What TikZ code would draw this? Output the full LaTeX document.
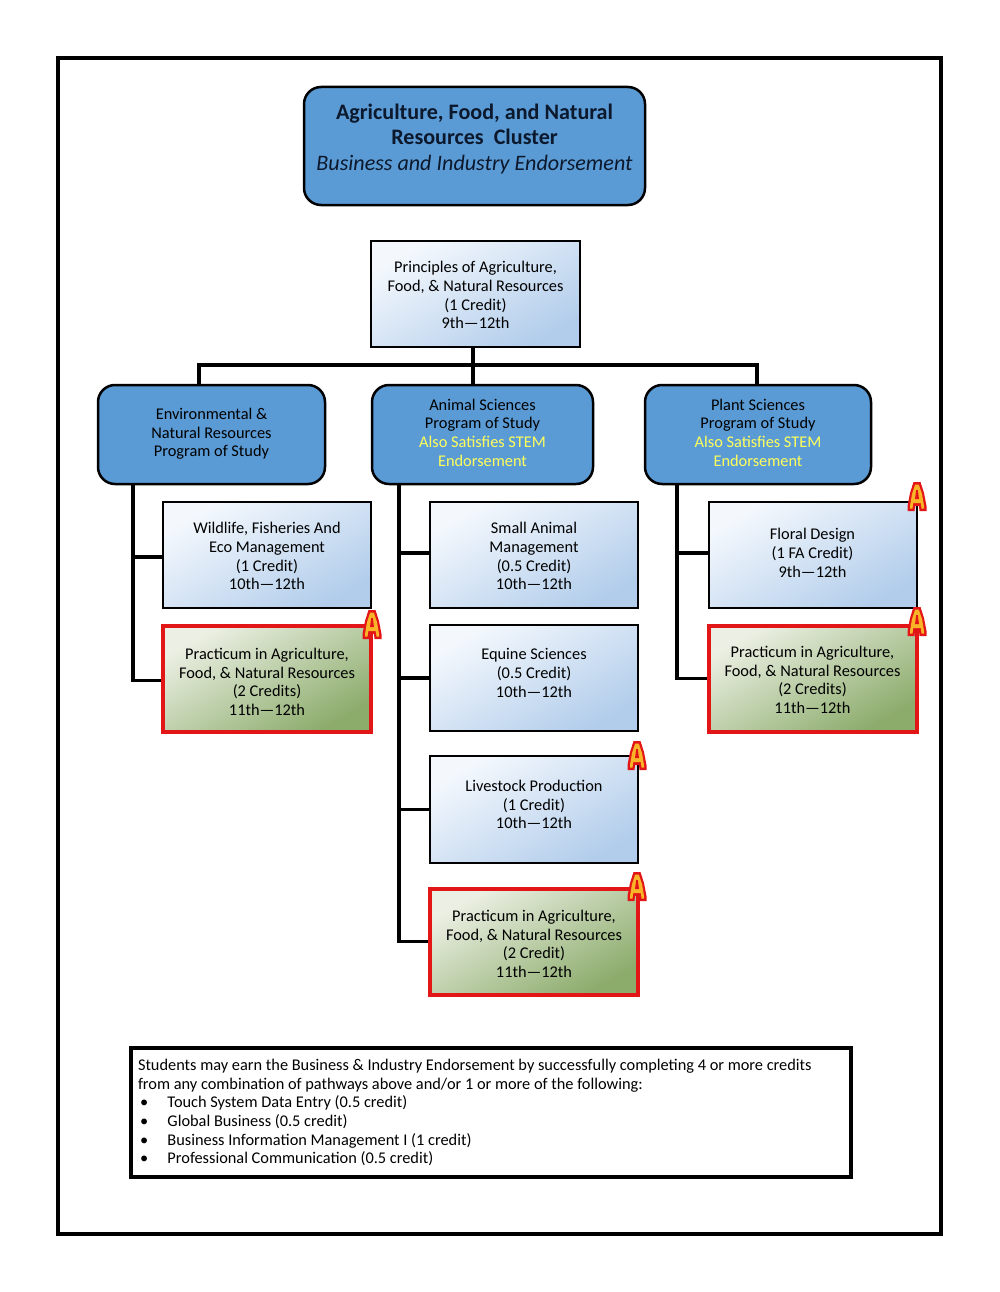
\documentclass[tikz,border=0pt]{standalone}
\usepackage{fontspec}
\setmainfont{Carlito}
\usepackage{tikz}
\usetikzlibrary{positioning}
\definecolor{headblue}{RGB}{91,155,213}
\definecolor{headtext}{RGB}{12,24,44}
\definecolor{paleblue}{RGB}{244,248,253}
\definecolor{deepblue}{RGB}{178,205,235}
\definecolor{palegreen}{RGB}{236,240,228}
\definecolor{deepgreen}{RGB}{140,172,108}
\definecolor{alert}{RGB}{226,22,22}
\definecolor{badge}{RGB}{250,180,40}
\definecolor{stem}{RGB}{255,255,90}
\tikzset{
    headbox/.style={draw=black, line width=2.5pt, rounded corners=17pt, fill=headblue, align=flush center, inner sep=0pt},
    coursebox/.style={draw=black, line width=2pt, align=flush center, inner sep=0pt, minimum width=208pt, minimum height=106pt,
        top color=paleblue, bottom color=deepblue, shading angle=30},
    capstone/.style={draw=alert, line width=4pt, align=flush center, inner sep=0pt, minimum width=208pt, minimum height=106pt,
        top color=palegreen, bottom color=deepgreen, shading angle=30},
    link/.style={draw=black, line width=3.5pt},
    apic/.pic={
        \fill[alert] (-3.5,-15) -- (3.5,-15) -- (7,-4) -- (9.5,9) -- (9.5,14) -- (2.5,14) -- (2,9) -- (-2,9) -- (-2.5,14) -- (-9.5,14) -- (-9.5,9) -- (-7,-4) -- cycle;
        \fill[badge] (-1.8,-12.5) -- (1.8,-12.5) -- (5,-3) -- (7,9) -- (7,11.5) -- (4.5,11.5) -- (3.8,6) -- (-3.8,6) -- (-4.5,11.5) -- (-7,11.5) -- (-7,9) -- (-5,-3) -- cycle;
        \fill[alert] (-0.8,-7) -- (0.8,-7) -- (2,2) -- (-2,2) -- cycle;
    }
}
\newcommand{\bodyfont}{\fontsize{16.35}{18.7}\selectfont}
\newcommand{\titlefont}{\fontsize{22.1}{25.3}\selectfont}
% pushes a box's lines down by half of the extra height
\newcommand{\topgap}[1]{\rule{0pt}{#1pt}}
\begin{document}
\begin{tikzpicture}[x=1pt, y=-1pt, font=\bodyfont]
    \useasboundingbox (0,0) rectangle (999,1292);
    % outer frame
    \node[draw=black, line width=4pt, minimum width=883pt, minimum height=1176pt, inner sep=0pt] (frame) at (499.5,646) {};

    % cluster title
    \node[headbox, minimum width=341pt, minimum height=118pt, text=headtext, font=\titlefont, text depth=18pt] (cluster) at (474.5,146)
        {\textbf{Agriculture, Food, and Natural}\\
         \textbf{Resources\ \ Cluster}\\
         \textit{Business and Industry Endorsement}};

    % first course
    \node[coursebox, minimum width=209pt] (principles) at (475.5,294)
        {\topgap{14}Principles of Agriculture,\\Food, \& Natural Resources\\(1 Credit)\\9th—12th};

    % programs of study
    \node[headbox, minimum width=227pt, minimum height=99pt, text depth=4pt] (environment) at (211.5,434.5)
        {Environmental \&\\Natural Resources\\Program of Study};
    \node[headbox, minimum width=221pt, minimum height=99pt, text depth=4pt] (animal) at (482.5,434.5)
        {Animal Sciences\\Program of Study\\\textcolor{stem}{Also Satisfies STEM}\\\textcolor{stem}{Endorsement}};
    \node[headbox, minimum width=226pt, minimum height=99pt, text depth=4pt] (plant) at (758,434.5)
        {Plant Sciences\\Program of Study\\\textcolor{stem}{Also Satisfies STEM}\\\textcolor{stem}{Endorsement}};

    % left column
    \node[coursebox] (wildlife) at (267,555)
        {\topgap{14}Wildlife, Fisheries And\\Eco Management\\(1 Credit)\\10th—12th};
    \node[capstone] (practicumleft) at (267,678.5)
        {\topgap{18}Practicum in Agriculture,\\Food, \& Natural Resources\\(2 Credits)\\11th—12th};

    % middle column
    \node[coursebox] (smallanimal) at (534,555)
        {\topgap{14}Small Animal\\Management\\(0.5 Credit)\\10th—12th};
    \node[coursebox, text depth=10pt] (equine) at (534,678)
        {Equine Sciences\\(0.5 Credit)\\10th—12th};
    \node[coursebox, minimum height=107pt, text depth=10pt] (livestock) at (534,809.5)
        {Livestock Production\\(1 Credit)\\10th—12th};
    \node[capstone] (practicummid) at (534,941.5)
        {\topgap{16}Practicum in Agriculture,\\Food, \& Natural Resources\\(2 Credit)\\11th—12th};

    % right column
    \node[coursebox, text depth=4pt] (floral) at (812.5,555)
        {Floral Design\\(1 FA Credit)\\9th—12th};
    \node[capstone] (practicumright) at (812.5,678.5)
        {\topgap{14}Practicum in Agriculture,\\Food, \& Natural Resources\\(2 Credits)\\11th—12th};

    % connectors
    \coordinate (junction) at (473,365);
    \draw[link] (principles.south -| junction) -- (animal.north -| junction);
    \draw[link] (environment.north -| 199,0) |- (junction) -| (plant.north -| 757,0);
    \draw[link] (environment.south -| 133,0) |- ([yshift=-2pt]practicumleft.west);
    \draw[link] (environment.south -| 133,0) |- ([yshift=-2pt]wildlife.west);
    \draw[link] (animal.south -| 399,0) |- (practicummid.west);
    \draw[link] (animal.south -| 399,0) |- ([yshift=2pt]smallanimal.west);
    \foreach \course in {equine, livestock} {
        \draw[link] (animal.south -| 399,0) |- (\course.west);
    }
    \draw[link] (plant.south -| 677,0) |- (practicumright.west);
    \draw[link] (plant.south -| 677,0) |- ([yshift=2pt]floral.west);

    % advanced badges
    \foreach \x/\y in {372/625, 637/756, 637/887, 917/497, 917/622} {
        \pic at (\x,\y) {apic};
    }

    % note
    \node[draw=black, line width=3.5pt, minimum width=720pt, minimum height=129pt, inner sep=0pt,
        text width=706pt, align=flush left] (note) at (491,1112.5)
        {Students may earn the Business \& Industry Endorsement by successfully completing 4 or more credits\\
         from any combination of pathways above and/or 1 or more of the following:\\
         \makebox[29.5pt][l]{\hspace{2pt}\textbullet}Touch System Data Entry (0.5 credit)\\
         \makebox[29.5pt][l]{\hspace{2pt}\textbullet}Global Business (0.5 credit)\\
         \makebox[29.5pt][l]{\hspace{2pt}\textbullet}Business Information Management I (1 credit)\\
         \makebox[29.5pt][l]{\hspace{2pt}\textbullet}Professional Communication (0.5 credit)};
\end{tikzpicture}
\end{document}
